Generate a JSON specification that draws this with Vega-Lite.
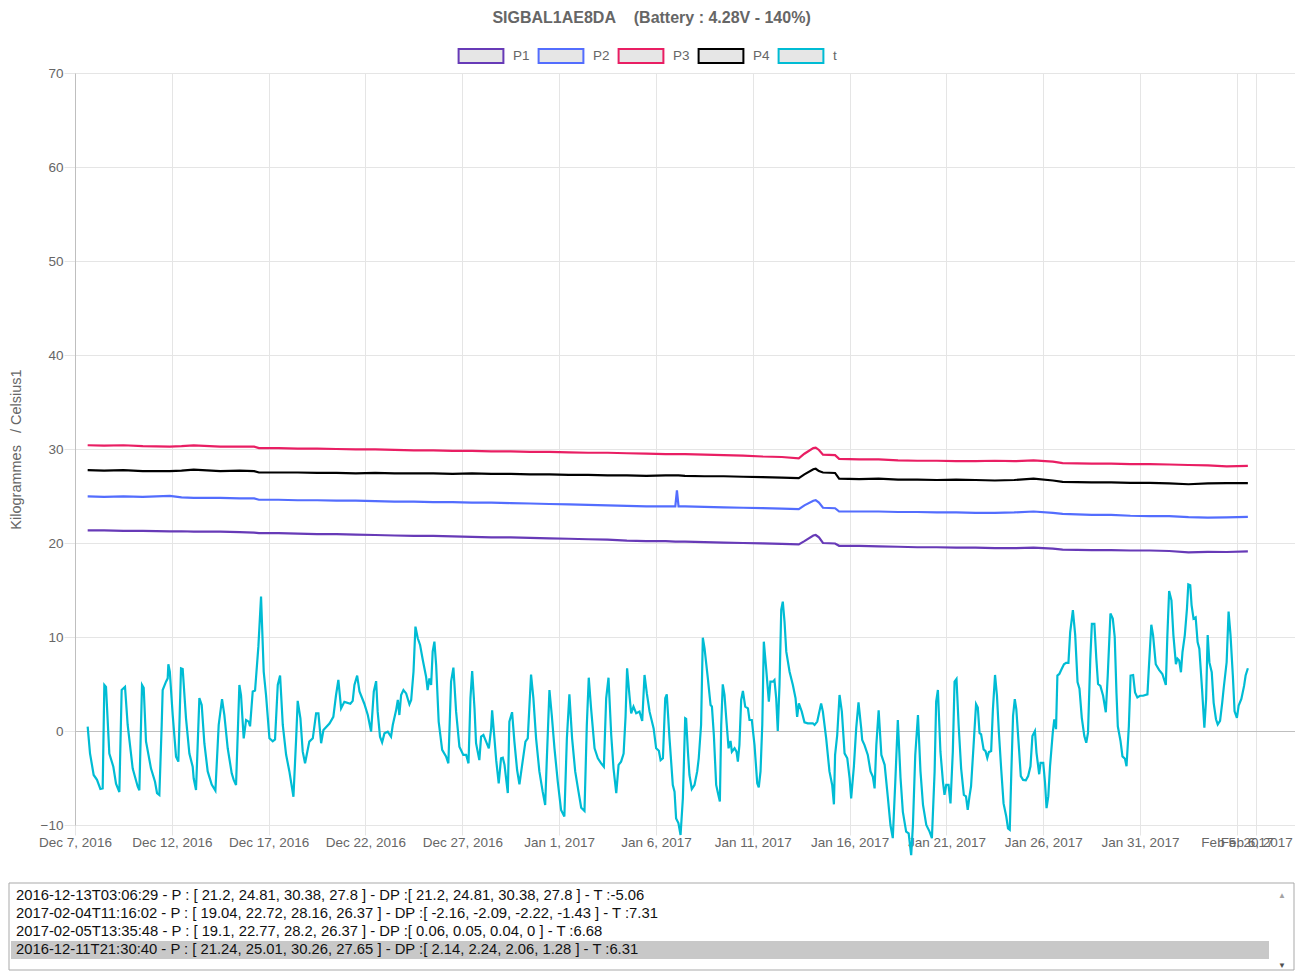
{
 "$schema": "https://vega.github.io/schema/vega-lite/v6.json",
 "padding": {"left": 8, "top": 10, "right": 0, "bottom": 0},
 "background": "white",
 "title": {"text": "SIGBAL1AE8DA\u00a0\u00a0\u00a0\u00a0(Battery : 4.28V - 140%)", "fontSize": 16, "fontWeight": "bold", "color": "#666666", "font": "Liberation Sans", "anchor": "middle", "frame": "bounds", "offset": 15},
 "config": {
  "font": "Liberation Sans",
  "view": {"stroke": null},
  "axis": {"labelFont": "Liberation Sans", "labelFontSize": 13.5, "labelColor": "#666666", "titleFont": "Liberation Sans", "titleFontSize": 13.5, "titleColor": "#666666", "titleFontWeight": "normal", "gridColor": "#e5e5e5", "tickColor": "#e5e5e5", "tickSize": 11, "labelPadding": 3}
 },
 "datasets": {
  "p": [
   {"d":"2016-12-07T15:42","P1":21.35,"P2":24.95,"P3":30.4,"P4":27.75},
   {"d":"2016-12-08T12:00","P1":21.35,"P2":24.9,"P3":30.35,"P4":27.7},
   {"d":"2016-12-09T12:00","P1":21.3,"P2":24.95,"P3":30.4,"P4":27.75},
   {"d":"2016-12-10T12:00","P1":21.3,"P2":24.9,"P3":30.3,"P4":27.65},
   {"d":"2016-12-11T21:30","P1":21.24,"P2":25.01,"P3":30.26,"P4":27.65},
   {"d":"2016-12-12T12:00","P1":21.25,"P2":24.85,"P3":30.3,"P4":27.7},
   {"d":"2016-12-13T03:06","P1":21.2,"P2":24.81,"P3":30.38,"P4":27.8},
   {"d":"2016-12-14T12:00","P1":21.2,"P2":24.8,"P3":30.25,"P4":27.65},
   {"d":"2016-12-15T12:00","P1":21.15,"P2":24.75,"P3":30.25,"P4":27.7},
   {"d":"2016-12-16T06:00","P1":21.1,"P2":24.75,"P3":30.25,"P4":27.65},
   {"d":"2016-12-16T12:00","P1":21.05,"P2":24.6,"P3":30.1,"P4":27.5},
   {"d":"2016-12-17T12:00","P1":21.05,"P2":24.6,"P3":30.1,"P4":27.5},
   {"d":"2016-12-18T12:00","P1":21.0,"P2":24.55,"P3":30.05,"P4":27.5},
   {"d":"2016-12-19T12:00","P1":20.95,"P2":24.55,"P3":30.05,"P4":27.45},
   {"d":"2016-12-20T12:00","P1":20.95,"P2":24.5,"P3":30.0,"P4":27.45},
   {"d":"2016-12-21T12:00","P1":20.9,"P2":24.5,"P3":29.95,"P4":27.4},
   {"d":"2016-12-22T12:00","P1":20.85,"P2":24.45,"P3":29.95,"P4":27.45},
   {"d":"2016-12-23T12:00","P1":20.8,"P2":24.4,"P3":29.9,"P4":27.4},
   {"d":"2016-12-24T12:00","P1":20.75,"P2":24.4,"P3":29.85,"P4":27.4},
   {"d":"2016-12-25T12:00","P1":20.75,"P2":24.35,"P3":29.85,"P4":27.4},
   {"d":"2016-12-26T12:00","P1":20.7,"P2":24.35,"P3":29.8,"P4":27.35},
   {"d":"2016-12-27T12:00","P1":20.65,"P2":24.3,"P3":29.8,"P4":27.4},
   {"d":"2016-12-28T12:00","P1":20.6,"P2":24.3,"P3":29.75,"P4":27.35},
   {"d":"2016-12-29T12:00","P1":20.6,"P2":24.25,"P3":29.75,"P4":27.35},
   {"d":"2016-12-30T12:00","P1":20.55,"P2":24.2,"P3":29.7,"P4":27.3},
   {"d":"2016-12-31T12:00","P1":20.5,"P2":24.15,"P3":29.7,"P4":27.3},
   {"d":"2017-01-01T12:00","P1":20.45,"P2":24.1,"P3":29.65,"P4":27.25},
   {"d":"2017-01-02T12:00","P1":20.4,"P2":24.05,"P3":29.6,"P4":27.25},
   {"d":"2017-01-03T12:00","P1":20.35,"P2":24.0,"P3":29.6,"P4":27.2},
   {"d":"2017-01-04T12:00","P1":20.25,"P2":23.95,"P3":29.55,"P4":27.2},
   {"d":"2017-01-05T12:00","P1":20.2,"P2":23.9,"P3":29.5,"P4":27.15},
   {"d":"2017-01-06T12:00","P1":20.2,"P2":23.9,"P3":29.45,"P4":27.2},
   {"d":"2017-01-07T00:00","P1":20.15,"P2":23.9,"P3":29.45,"P4":27.2},
   {"d":"2017-01-07T02:00","P2":25.6},
   {"d":"2017-01-07T04:00","P1":20.15,"P2":23.9,"P3":29.45,"P4":27.2},
   {"d":"2017-01-07T12:00","P1":20.15,"P2":23.9,"P3":29.45,"P4":27.15},
   {"d":"2017-01-08T12:00","P1":20.1,"P2":23.85,"P3":29.4,"P4":27.1},
   {"d":"2017-01-09T12:00","P1":20.05,"P2":23.8,"P3":29.35,"P4":27.1},
   {"d":"2017-01-10T12:00","P1":20.0,"P2":23.75,"P3":29.3,"P4":27.05},
   {"d":"2017-01-11T12:00","P1":19.95,"P2":23.7,"P3":29.2,"P4":27.0},
   {"d":"2017-01-12T12:00","P1":19.9,"P2":23.65,"P3":29.15,"P4":26.95},
   {"d":"2017-01-13T09:00","P1":19.85,"P2":23.6,"P3":29.0,"P4":26.9},
   {"d":"2017-01-13T16:00","P1":20.2,"P2":24.0,"P3":29.5,"P4":27.3},
   {"d":"2017-01-14T03:00","P1":20.8,"P2":24.5,"P3":30.1,"P4":27.85},
   {"d":"2017-01-14T06:00","P1":20.85,"P2":24.55,"P3":30.15,"P4":27.9},
   {"d":"2017-01-14T10:00","P1":20.6,"P2":24.3,"P3":29.9,"P4":27.65},
   {"d":"2017-01-14T15:00","P1":20.0,"P2":23.75,"P3":29.4,"P4":27.5},
   {"d":"2017-01-15T06:00","P1":19.95,"P2":23.7,"P3":29.35,"P4":27.45},
   {"d":"2017-01-15T11:00","P1":19.7,"P2":23.35,"P3":28.95,"P4":26.85},
   {"d":"2017-01-16T12:00","P1":19.7,"P2":23.35,"P3":28.9,"P4":26.8},
   {"d":"2017-01-17T12:00","P1":19.65,"P2":23.35,"P3":28.9,"P4":26.85},
   {"d":"2017-01-18T12:00","P1":19.6,"P2":23.3,"P3":28.8,"P4":26.75},
   {"d":"2017-01-19T12:00","P1":19.55,"P2":23.3,"P3":28.75,"P4":26.75},
   {"d":"2017-01-20T12:00","P1":19.55,"P2":23.25,"P3":28.75,"P4":26.7},
   {"d":"2017-01-21T12:00","P1":19.5,"P2":23.25,"P3":28.7,"P4":26.75},
   {"d":"2017-01-22T12:00","P1":19.5,"P2":23.2,"P3":28.7,"P4":26.7},
   {"d":"2017-01-23T12:00","P1":19.45,"P2":23.2,"P3":28.75,"P4":26.65},
   {"d":"2017-01-24T12:00","P1":19.45,"P2":23.25,"P3":28.7,"P4":26.7},
   {"d":"2017-01-25T12:00","P1":19.5,"P2":23.35,"P3":28.8,"P4":26.85},
   {"d":"2017-01-26T12:00","P1":19.4,"P2":23.2,"P3":28.65,"P4":26.65},
   {"d":"2017-01-27T00:00","P1":19.3,"P2":23.1,"P3":28.5,"P4":26.5},
   {"d":"2017-01-28T12:00","P1":19.25,"P2":23.0,"P3":28.45,"P4":26.45},
   {"d":"2017-01-29T12:00","P1":19.25,"P2":23.0,"P3":28.45,"P4":26.45},
   {"d":"2017-01-30T12:00","P1":19.2,"P2":22.9,"P3":28.4,"P4":26.4},
   {"d":"2017-01-31T12:00","P1":19.2,"P2":22.85,"P3":28.4,"P4":26.4},
   {"d":"2017-02-01T12:00","P1":19.15,"P2":22.85,"P3":28.35,"P4":26.35},
   {"d":"2017-02-02T12:00","P1":19.0,"P2":22.75,"P3":28.3,"P4":26.25},
   {"d":"2017-02-03T12:00","P1":19.05,"P2":22.7,"P3":28.25,"P4":26.35},
   {"d":"2017-02-04T11:16","P1":19.04,"P2":22.72,"P3":28.16,"P4":26.37},
   {"d":"2017-02-05T13:35","P1":19.1,"P2":22.77,"P3":28.2,"P4":26.37}
  ],
  "t": [
   {"d":"2016-12-07T15:42","t":0.46},{"d":"2016-12-07T18:36","t":-2.38},{"d":"2016-12-07T23:08","t":-4.68},
   {"d":"2016-12-08T03:16","t":-5.2},{"d":"2016-12-08T07:25","t":-6.17},{"d":"2016-12-08T10:18","t":-6.1},
   {"d":"2016-12-08T12:22","t":4.9},{"d":"2016-12-08T14:25","t":4.7},{"d":"2016-12-08T18:33","t":-2.4},
   {"d":"2016-12-08T23:31","t":-3.8},{"d":"2016-12-09T02:50","t":-5.6},{"d":"2016-12-09T06:58","t":-6.5},
   {"d":"2016-12-09T09:50","t":4.36},{"d":"2016-12-09T14:00","t":4.7},{"d":"2016-12-09T17:17","t":0.64},
   {"d":"2016-12-09T23:31","t":-4.0},{"d":"2016-12-10T05:41","t":-5.9},{"d":"2016-12-10T07:45","t":-6.3},
   {"d":"2016-12-10T11:04","t":4.9},{"d":"2016-12-10T13:08","t":4.6},{"d":"2016-12-10T16:00","t":-1.1},
   {"d":"2016-12-10T22:13","t":-4.0},{"d":"2016-12-11T03:10","t":-5.4},{"d":"2016-12-11T05:40","t":-6.6},
   {"d":"2016-12-11T08:33","t":-6.8},{"d":"2016-12-11T11:27","t":0.64},{"d":"2016-12-11T12:40","t":4.36},
   {"d":"2016-12-11T16:48","t":5.25},{"d":"2016-12-11T18:53","t":5.6},{"d":"2016-12-11T19:42","t":7.1},
   {"d":"2016-12-11T21:30","t":6.31},{"d":"2016-12-12T01:05","t":1.7},{"d":"2016-12-12T05:13","t":-2.73},
   {"d":"2016-12-12T08:05","t":-3.26},{"d":"2016-12-12T11:24","t":6.67},{"d":"2016-12-12T13:28","t":6.6},
   {"d":"2016-12-12T17:35","t":1.35},{"d":"2016-12-12T21:45","t":-2.4},{"d":"2016-12-13T01:52","t":-3.8},
   {"d":"2016-12-13T03:06","t":-5.06},{"d":"2016-12-13T06:00","t":-6.28},{"d":"2016-12-13T10:08","t":3.5},
   {"d":"2016-12-13T13:02","t":2.77},{"d":"2016-12-13T16:19","t":-1.3},{"d":"2016-12-13T20:28","t":-4.3},
   {"d":"2016-12-14T01:26","t":-5.7},{"d":"2016-12-14T06:00","t":-6.35},{"d":"2016-12-14T10:05","t":0.64},
   {"d":"2016-12-14T14:14","t":3.4},{"d":"2016-12-14T17:07","t":1.7},{"d":"2016-12-14T21:16","t":-1.84},
   {"d":"2016-12-15T02:13","t":-4.5},{"d":"2016-12-15T04:42","t":-5.2},{"d":"2016-12-15T07:35","t":-5.74},
   {"d":"2016-12-15T11:43","t":4.9},{"d":"2016-12-15T13:46","t":3.8},{"d":"2016-12-15T17:05","t":-0.78},
   {"d":"2016-12-15T20:00","t":1.17},{"d":"2016-12-15T23:17","t":1.0},{"d":"2016-12-16T00:58","t":0.5},
   {"d":"2016-12-16T04:15","t":4.2},{"d":"2016-12-16T07:09","t":4.3},{"d":"2016-12-16T11:17","t":9.0},
   {"d":"2016-12-16T14:34","t":14.3},{"d":"2016-12-16T17:53","t":6.3},{"d":"2016-12-16T20:47","t":3.8},
   {"d":"2016-12-17T00:58","t":-0.78},{"d":"2016-12-17T05:02","t":-1.1},{"d":"2016-12-17T07:55","t":-0.9},
   {"d":"2016-12-17T11:17","t":4.9},{"d":"2016-12-17T14:10","t":5.9},{"d":"2016-12-17T17:31","t":0.64},
   {"d":"2016-12-17T21:36","t":-2.5},{"d":"2016-12-18T01:41","t":-4.3},{"d":"2016-12-18T06:43","t":-7.0},
   {"d":"2016-12-18T10:05","t":-0.78},{"d":"2016-12-18T12:00","t":3.2},{"d":"2016-12-18T15:22","t":1.35},
   {"d":"2016-12-18T18:14","t":-2.2},{"d":"2016-12-18T21:07","t":-3.44},{"d":"2016-12-19T02:24","t":-1.13},
   {"d":"2016-12-19T06:43","t":-0.78},{"d":"2016-12-19T10:48","t":1.88},{"d":"2016-12-19T13:41","t":1.88},
   {"d":"2016-12-19T17:02","t":-1.3},{"d":"2016-12-19T19:55","t":0.1},{"d":"2016-12-20T03:22","t":0.8},
   {"d":"2016-12-20T08:10","t":1.5},{"d":"2016-12-20T11:31","t":3.83},{"d":"2016-12-20T14:24","t":5.43},
   {"d":"2016-12-20T17:46","t":2.4},{"d":"2016-12-20T21:50","t":3.1},{"d":"2016-12-21T05:17","t":2.9},
   {"d":"2016-12-21T08:10","t":3.2},{"d":"2016-12-21T10:19","t":4.9},{"d":"2016-12-21T13:41","t":5.9},
   {"d":"2016-12-21T16:34","t":4.2},{"d":"2016-12-21T22:34","t":2.9},{"d":"2016-12-22T02:53","t":1.7},
   {"d":"2016-12-22T06:58","t":-0.07},{"d":"2016-12-22T10:19","t":4.2},{"d":"2016-12-22T13:12","t":5.3},
   {"d":"2016-12-22T15:07","t":2.06},{"d":"2016-12-22T18:00","t":-0.6},{"d":"2016-12-22T20:38","t":-1.2},
   {"d":"2016-12-22T23:31","t":-0.25},{"d":"2016-12-23T03:36","t":-0.07},{"d":"2016-12-23T07:41","t":-0.6},
   {"d":"2016-12-23T09:50","t":0.64},{"d":"2016-12-23T13:55","t":2.2},{"d":"2016-12-23T16:05","t":3.3},
   {"d":"2016-12-23T18:00","t":1.7},{"d":"2016-12-23T20:10","t":3.83},{"d":"2016-12-23T23:02","t":4.36},
   {"d":"2016-12-24T02:24","t":4.0},{"d":"2016-12-24T06:29","t":2.84},{"d":"2016-12-24T08:38","t":3.3},
   {"d":"2016-12-24T11:31","t":6.3},{"d":"2016-12-24T13:55","t":11.1},{"d":"2016-12-24T16:48","t":9.86},
   {"d":"2016-12-24T19:41","t":9.15},{"d":"2016-12-24T23:02","t":7.55},{"d":"2016-12-25T03:07","t":5.78},
   {"d":"2016-12-25T05:02","t":4.36},{"d":"2016-12-25T07:12","t":5.6},{"d":"2016-12-25T09:22","t":4.9},
   {"d":"2016-12-25T11:17","t":8.44},{"d":"2016-12-25T13:26","t":9.5},{"d":"2016-12-25T15:36","t":7.0},
   {"d":"2016-12-25T18:43","t":1.0},{"d":"2016-12-25T23:02","t":-2.0},{"d":"2016-12-26T03:50","t":-2.7},
   {"d":"2016-12-26T06:43","t":-3.44},{"d":"2016-12-26T10:05","t":5.25},{"d":"2016-12-26T12:58","t":6.74},
   {"d":"2016-12-26T16:19","t":2.06},{"d":"2016-12-26T20:24","t":-1.67},{"d":"2016-12-27T01:12","t":-2.55},
   {"d":"2016-12-27T04:48","t":-2.55},{"d":"2016-12-27T07:41","t":-3.44},{"d":"2016-12-27T10:05","t":3.48},
   {"d":"2016-12-27T12:14","t":6.38},{"d":"2016-12-27T15:07","t":2.4},{"d":"2016-12-27T17:02","t":-1.3},
   {"d":"2016-12-27T21:07","t":-3.1},{"d":"2016-12-27T23:17","t":-0.6},{"d":"2016-12-28T02:10","t":-0.43},
   {"d":"2016-12-28T05:31","t":-1.13},{"d":"2016-12-28T08:53","t":-1.84},{"d":"2016-12-28T11:46","t":0.28},
   {"d":"2016-12-28T12:58","t":2.2},{"d":"2016-12-28T15:50","t":-0.8},{"d":"2016-12-28T18:00","t":-3.1},
   {"d":"2016-12-28T21:07","t":-5.57},{"d":"2016-12-29T00:00","t":-2.9},{"d":"2016-12-29T02:10","t":-2.84},
   {"d":"2016-12-29T04:19","t":-3.6},{"d":"2016-12-29T08:24","t":-6.6},{"d":"2016-12-29T10:19","t":1.0},
   {"d":"2016-12-29T13:41","t":2.0},{"d":"2016-12-29T16:34","t":-1.13},{"d":"2016-12-29T19:55","t":-4.15},
   {"d":"2016-12-29T22:48","t":-5.67},{"d":"2016-12-30T02:10","t":-3.6},{"d":"2016-12-30T06:14","t":-1.13},
   {"d":"2016-12-30T09:07","t":-0.78},{"d":"2016-12-30T13:12","t":6.0},{"d":"2016-12-30T16:05","t":3.5},
   {"d":"2016-12-30T19:26","t":-0.78},{"d":"2016-12-30T23:31","t":-4.3},{"d":"2016-12-31T03:36","t":-6.45},
   {"d":"2016-12-31T06:43","t":-7.87},{"d":"2016-12-31T08:38","t":-3.26},{"d":"2016-12-31T12:00","t":4.36},
   {"d":"2016-12-31T14:53","t":1.7},{"d":"2016-12-31T18:14","t":-1.84},{"d":"2016-12-31T22:19","t":-5.4},
   {"d":"2017-01-01T02:24","t":-8.4},{"d":"2017-01-01T06:29","t":-9.1},{"d":"2017-01-01T09:36","t":-0.78},
   {"d":"2017-01-01T12:43","t":3.9},{"d":"2017-01-01T16:05","t":-0.78},{"d":"2017-01-01T19:55","t":-4.3},
   {"d":"2017-01-02T00:00","t":-6.45},{"d":"2017-01-02T03:22","t":-8.16},{"d":"2017-01-02T07:26","t":-8.5},
   {"d":"2017-01-02T10:19","t":0.64},{"d":"2017-01-02T12:43","t":5.67},{"d":"2017-01-02T15:36","t":2.4},
   {"d":"2017-01-02T19:55","t":-1.84},{"d":"2017-01-03T00:00","t":-2.9},{"d":"2017-01-03T04:05","t":-3.44},
   {"d":"2017-01-03T07:26","t":-3.8},{"d":"2017-01-03T10:19","t":3.48},{"d":"2017-01-03T13:12","t":5.67},
   {"d":"2017-01-03T16:34","t":-0.43},{"d":"2017-01-03T19:26","t":-4.0},{"d":"2017-01-03T22:48","t":-6.6},
   {"d":"2017-01-04T01:41","t":-3.6},{"d":"2017-01-04T04:48","t":-3.26},{"d":"2017-01-04T07:55","t":-2.4},
   {"d":"2017-01-04T10:19","t":1.5},{"d":"2017-01-04T12:14","t":6.67},{"d":"2017-01-04T15:07","t":3.83},
   {"d":"2017-01-04T17:17","t":1.88},{"d":"2017-01-04T20:10","t":2.6},{"d":"2017-01-04T23:31","t":1.88},
   {"d":"2017-01-05T03:36","t":2.06},{"d":"2017-01-05T06:58","t":1.06},{"d":"2017-01-05T09:50","t":5.96},
   {"d":"2017-01-05T12:43","t":4.0},{"d":"2017-01-05T16:05","t":2.06},{"d":"2017-01-05T21:07","t":0.28},
   {"d":"2017-01-06T00:14","t":-1.84},{"d":"2017-01-06T03:36","t":-2.1},{"d":"2017-01-06T05:46","t":-3.1},
   {"d":"2017-01-06T08:38","t":-2.9},{"d":"2017-01-06T11:31","t":3.48},{"d":"2017-01-06T13:26","t":3.9},
   {"d":"2017-01-06T16:48","t":-0.78},{"d":"2017-01-06T20:53","t":-5.74},{"d":"2017-01-06T23:02","t":-6.45},
   {"d":"2017-01-07T00:58","t":-9.3},{"d":"2017-01-07T03:50","t":-9.8},{"d":"2017-01-07T06:29","t":-11.06},
   {"d":"2017-01-07T09:22","t":-7.16},{"d":"2017-01-07T12:14","t":1.35},{"d":"2017-01-07T13:26","t":1.28},
   {"d":"2017-01-07T15:36","t":-2.2},{"d":"2017-01-07T17:31","t":-4.68},{"d":"2017-01-07T20:24","t":-6.17},
   {"d":"2017-01-07T23:46","t":-5.74},{"d":"2017-01-08T03:07","t":-4.3},{"d":"2017-01-08T05:02","t":-2.9},
   {"d":"2017-01-08T07:55","t":0.64},{"d":"2017-01-08T10:05","t":9.93},{"d":"2017-01-08T12:14","t":8.8},
   {"d":"2017-01-08T16:19","t":5.6},{"d":"2017-01-08T19:41","t":2.77},{"d":"2017-01-08T21:22","t":2.6},
   {"d":"2017-01-08T23:46","t":-0.43},{"d":"2017-01-09T02:38","t":-5.74},{"d":"2017-01-09T04:48","t":-6.6},
   {"d":"2017-01-09T07:12","t":-7.5},{"d":"2017-01-09T08:53","t":0.64},{"d":"2017-01-09T10:48","t":4.96},
   {"d":"2017-01-09T12:58","t":3.83},{"d":"2017-01-09T15:07","t":1.35},{"d":"2017-01-09T18:00","t":-1.84},
   {"d":"2017-01-09T20:24","t":-1.06},{"d":"2017-01-09T22:05","t":-2.2},{"d":"2017-01-10T01:26","t":-1.84},
   {"d":"2017-01-10T03:50","t":-2.2},{"d":"2017-01-10T05:31","t":-3.26},{"d":"2017-01-10T07:26","t":-1.5},
   {"d":"2017-01-10T09:36","t":3.3},{"d":"2017-01-10T11:46","t":4.26},{"d":"2017-01-10T14:38","t":2.6},
   {"d":"2017-01-10T18:00","t":2.41},{"d":"2017-01-10T19:55","t":1.17},{"d":"2017-01-10T22:48","t":1.17},
   {"d":"2017-01-11T02:10","t":-1.5},{"d":"2017-01-11T05:31","t":-5.57},{"d":"2017-01-11T07:26","t":-6.0},
   {"d":"2017-01-11T09:36","t":-4.3},{"d":"2017-01-11T11:46","t":0.64},{"d":"2017-01-11T13:41","t":9.5},
   {"d":"2017-01-11T16:34","t":6.67},{"d":"2017-01-11T19:55","t":3.12},{"d":"2017-01-11T21:50","t":5.25},
   {"d":"2017-01-12T00:58","t":5.25},{"d":"2017-01-12T02:53","t":5.43},{"d":"2017-01-12T05:02","t":3.48},
   {"d":"2017-01-12T06:58","t":0.0},{"d":"2017-01-12T09:07","t":4.9},{"d":"2017-01-12T11:17","t":12.9},
   {"d":"2017-01-12T13:12","t":13.76},{"d":"2017-01-12T15:22","t":11.6},{"d":"2017-01-12T17:31","t":8.44},
   {"d":"2017-01-12T21:36","t":6.3},{"d":"2017-01-13T01:41","t":4.9},{"d":"2017-01-13T05:02","t":3.48},
   {"d":"2017-01-13T06:58","t":1.5},{"d":"2017-01-13T09:07","t":2.94},{"d":"2017-01-13T12:43","t":2.06},
   {"d":"2017-01-13T16:05","t":0.92},{"d":"2017-01-13T20:10","t":0.82},{"d":"2017-01-14T02:24","t":0.82},
   {"d":"2017-01-14T04:34","t":0.64},{"d":"2017-01-14T07:55","t":1.0},{"d":"2017-01-14T12:43","t":2.94},
   {"d":"2017-01-14T14:53","t":2.06},{"d":"2017-01-14T18:58","t":-0.78},{"d":"2017-01-14T23:02","t":-4.3},
   {"d":"2017-01-15T02:24","t":-5.74},{"d":"2017-01-15T04:34","t":-7.8},{"d":"2017-01-15T06:00","t":-2.55},
   {"d":"2017-01-15T08:38","t":-0.43},{"d":"2017-01-15T11:31","t":3.83},{"d":"2017-01-15T14:24","t":2.06},
   {"d":"2017-01-15T17:46","t":-2.38},{"d":"2017-01-15T21:07","t":-2.9},{"d":"2017-01-16T00:00","t":-5.0},
   {"d":"2017-01-16T01:55","t":-7.16},{"d":"2017-01-16T05:17","t":-3.8},{"d":"2017-01-16T08:10","t":0.28},
   {"d":"2017-01-16T11:02","t":3.05},{"d":"2017-01-16T14:24","t":0.28},{"d":"2017-01-16T15:36","t":-0.96},
   {"d":"2017-01-16T18:29","t":-1.5},{"d":"2017-01-16T22:34","t":-2.55},{"d":"2017-01-17T01:55","t":-4.3},
   {"d":"2017-01-17T04:48","t":-4.86},{"d":"2017-01-17T06:58","t":-6.1},{"d":"2017-01-17T09:07","t":-1.5},
   {"d":"2017-01-17T12:00","t":2.2},{"d":"2017-01-17T15:22","t":-2.55},{"d":"2017-01-17T19:26","t":-3.6},
   {"d":"2017-01-17T23:31","t":-7.16},{"d":"2017-01-18T02:38","t":-10.0},{"d":"2017-01-18T05:31","t":-11.4},
   {"d":"2017-01-18T08:38","t":-5.4},{"d":"2017-01-18T11:46","t":1.17},{"d":"2017-01-18T15:07","t":-5.0},
   {"d":"2017-01-18T18:00","t":-8.6},{"d":"2017-01-18T22:05","t":-10.7},{"d":"2017-01-19T01:12","t":-10.9},
   {"d":"2017-01-19T04:19","t":-13.2},{"d":"2017-01-19T06:29","t":-10.0},{"d":"2017-01-19T09:22","t":-2.55},
   {"d":"2017-01-19T12:43","t":1.7},{"d":"2017-01-19T15:50","t":-4.3},{"d":"2017-01-19T18:58","t":-7.87},
   {"d":"2017-01-19T23:02","t":-10.0},{"d":"2017-01-20T03:07","t":-10.7},{"d":"2017-01-20T06:00","t":-11.4},
   {"d":"2017-01-20T09:22","t":-4.3},{"d":"2017-01-20T11:17","t":3.12},{"d":"2017-01-20T13:26","t":4.36},
   {"d":"2017-01-20T16:34","t":-2.2},{"d":"2017-01-20T19:41","t":-5.4},{"d":"2017-01-20T21:36","t":-6.8},
   {"d":"2017-01-20T23:46","t":-5.74},{"d":"2017-01-21T02:38","t":-5.74},{"d":"2017-01-21T05:02","t":-7.7},
   {"d":"2017-01-21T07:55","t":-2.2},{"d":"2017-01-21T10:05","t":5.25},{"d":"2017-01-21T12:29","t":5.53},
   {"d":"2017-01-21T15:07","t":0.64},{"d":"2017-01-21T18:14","t":-4.0},{"d":"2017-01-21T21:36","t":-6.8},
   {"d":"2017-01-22T00:14","t":-6.96},{"d":"2017-01-22T02:24","t":-8.4},{"d":"2017-01-22T04:34","t":-6.96},
   {"d":"2017-01-22T06:29","t":-5.9},{"d":"2017-01-22T09:36","t":-1.6},{"d":"2017-01-22T12:43","t":2.86},
   {"d":"2017-01-22T14:53","t":2.5},{"d":"2017-01-22T17:02","t":-0.2},{"d":"2017-01-22T18:58","t":-0.36},
   {"d":"2017-01-22T22:05","t":-1.96},{"d":"2017-01-23T00:29","t":-2.14},{"d":"2017-01-23T02:38","t":-2.86},
   {"d":"2017-01-23T04:34","t":-2.25},{"d":"2017-01-23T07:26","t":-2.14},{"d":"2017-01-23T09:36","t":2.3},
   {"d":"2017-01-23T12:14","t":5.96},{"d":"2017-01-23T14:38","t":3.75},{"d":"2017-01-23T17:02","t":-0.18},
   {"d":"2017-01-23T19:55","t":-4.1},{"d":"2017-01-23T22:48","t":-7.7},{"d":"2017-01-24T02:10","t":-9.1},
   {"d":"2017-01-24T04:19","t":-10.35},{"d":"2017-01-24T06:29","t":-10.5},{"d":"2017-01-24T08:24","t":-4.5},
   {"d":"2017-01-24T10:34","t":1.6},{"d":"2017-01-24T12:43","t":3.4},{"d":"2017-01-24T14:38","t":2.3},
   {"d":"2017-01-24T18:00","t":-1.96},{"d":"2017-01-24T20:10","t":-4.8},{"d":"2017-01-24T23:02","t":-5.2},
   {"d":"2017-01-25T02:24","t":-5.25},{"d":"2017-01-25T05:17","t":-4.8},{"d":"2017-01-25T08:10","t":-3.75},
   {"d":"2017-01-25T10:34","t":-0.54},{"d":"2017-01-25T13:41","t":0.0},{"d":"2017-01-25T15:36","t":-2.3},
   {"d":"2017-01-25T18:58","t":-4.6},{"d":"2017-01-25T20:38","t":-3.4},{"d":"2017-01-26T00:00","t":-3.4},
   {"d":"2017-01-26T02:10","t":-5.5},{"d":"2017-01-26T04:05","t":-8.2},{"d":"2017-01-26T06:14","t":-6.96},
   {"d":"2017-01-26T08:24","t":-3.75},{"d":"2017-01-26T11:46","t":-0.2},{"d":"2017-01-26T13:41","t":1.25},
   {"d":"2017-01-26T15:50","t":0.2},{"d":"2017-01-26T17:31","t":5.9},{"d":"2017-01-26T19:55","t":6.07},
   {"d":"2017-01-26T22:48","t":6.6},{"d":"2017-01-27T01:41","t":7.1},{"d":"2017-01-27T04:19","t":7.25},
   {"d":"2017-01-27T07:12","t":7.25},{"d":"2017-01-27T09:22","t":10.5},{"d":"2017-01-27T12:43","t":12.85},
   {"d":"2017-01-27T15:36","t":10.2},{"d":"2017-01-27T18:29","t":5.2},{"d":"2017-01-27T20:53","t":4.5},
   {"d":"2017-01-27T23:46","t":1.4},{"d":"2017-01-28T02:53","t":-0.54},{"d":"2017-01-28T05:17","t":-1.25},
   {"d":"2017-01-28T07:26","t":-0.2},{"d":"2017-01-28T10:19","t":7.7},{"d":"2017-01-28T12:14","t":11.4},
   {"d":"2017-01-28T15:22","t":11.4},{"d":"2017-01-28T17:46","t":7.7},{"d":"2017-01-28T19:55","t":5.0},
   {"d":"2017-01-28T22:48","t":4.8},{"d":"2017-01-29T02:10","t":3.75},{"d":"2017-01-29T05:31","t":2.0},
   {"d":"2017-01-29T07:55","t":5.9},{"d":"2017-01-29T11:17","t":12.5},{"d":"2017-01-29T14:10","t":11.96},
   {"d":"2017-01-29T16:34","t":10.0},{"d":"2017-01-29T18:43","t":4.1},{"d":"2017-01-29T20:24","t":0.5},
   {"d":"2017-01-29T23:46","t":-1.07},{"d":"2017-01-30T02:10","t":-2.7},{"d":"2017-01-30T05:17","t":-2.96},
   {"d":"2017-01-30T07:12","t":-3.75},{"d":"2017-01-30T10:05","t":0.5},{"d":"2017-01-30T12:14","t":5.9},
   {"d":"2017-01-30T15:22","t":5.96},{"d":"2017-01-30T17:46","t":4.1},{"d":"2017-01-30T20:38","t":3.57},
   {"d":"2017-01-31T00:00","t":3.75},{"d":"2017-01-31T03:36","t":3.75},{"d":"2017-01-31T09:07","t":3.9},
   {"d":"2017-01-31T11:02","t":6.96},{"d":"2017-01-31T13:55","t":11.3},{"d":"2017-01-31T16:05","t":10.2},
   {"d":"2017-01-31T19:26","t":7.1},{"d":"2017-01-31T23:31","t":6.5},{"d":"2017-02-01T03:36","t":6.07},
   {"d":"2017-02-01T07:55","t":4.9},{"d":"2017-02-01T09:50","t":10.2},{"d":"2017-02-01T12:00","t":14.9},
   {"d":"2017-02-01T14:53","t":13.9},{"d":"2017-02-01T17:17","t":10.2},{"d":"2017-02-01T20:24","t":7.1},
   {"d":"2017-02-01T22:19","t":7.7},{"d":"2017-02-02T00:29","t":7.5},{"d":"2017-02-02T02:38","t":6.25},
   {"d":"2017-02-02T04:34","t":8.4},{"d":"2017-02-02T07:26","t":10.2},{"d":"2017-02-02T10:05","t":13.0},
   {"d":"2017-02-02T11:46","t":15.6},{"d":"2017-02-02T14:10","t":15.5},{"d":"2017-02-02T15:50","t":13.4},
   {"d":"2017-02-02T18:14","t":11.96},{"d":"2017-02-02T20:53","t":12.1},{"d":"2017-02-02T23:17","t":9.46},
   {"d":"2017-02-03T01:26","t":8.75},{"d":"2017-02-03T04:48","t":4.46},{"d":"2017-02-03T07:41","t":0.35},
   {"d":"2017-02-03T09:50","t":3.4},{"d":"2017-02-03T11:46","t":10.2},{"d":"2017-02-03T13:55","t":7.3},
   {"d":"2017-02-03T16:48","t":6.25},{"d":"2017-02-03T19:12","t":3.0},{"d":"2017-02-03T22:05","t":1.25},
   {"d":"2017-02-04T00:14","t":0.7},{"d":"2017-02-04T03:07","t":1.07},{"d":"2017-02-04T05:46","t":3.0},
   {"d":"2017-02-04T07:41","t":4.6},{"d":"2017-02-04T11:16","t":7.31},{"d":"2017-02-04T13:41","t":12.7},
   {"d":"2017-02-04T16:05","t":10.2},{"d":"2017-02-04T18:58","t":5.9},{"d":"2017-02-04T21:07","t":2.1},
   {"d":"2017-02-05T00:00","t":1.4},{"d":"2017-02-05T02:10","t":2.7},{"d":"2017-02-05T05:31","t":3.4},
   {"d":"2017-02-05T08:53","t":4.8},{"d":"2017-02-05T10:48","t":5.9},{"d":"2017-02-05T13:35","t":6.68}
  ],
  "log": [
   {"row":1,"line":"2016-12-13T03:06:29 - P : [ 21.2, 24.81, 30.38, 27.8 ] - DP :[ 21.2, 24.81, 30.38, 27.8 ] - T :-5.06","selected":false},
   {"row":2,"line":"2017-02-04T11:16:02 - P : [ 19.04, 22.72, 28.16, 26.37 ] - DP :[ -2.16, -2.09, -2.22, -1.43 ] - T :7.31","selected":false},
   {"row":3,"line":"2017-02-05T13:35:48 - P : [ 19.1, 22.77, 28.2, 26.37 ] - DP :[ 0.06, 0.05, 0.04, 0 ] - T :6.68","selected":false},
   {"row":4,"line":"2016-12-11T21:30:40 - P : [ 21.24, 25.01, 30.26, 27.65 ] - DP :[ 2.14, 2.24, 2.06, 1.28 ] - T :6.31","selected":true}
  ]
 },
 "columns": 1,
 "spacing": 22,
 "concat": [
  {
   "width": 1220,
   "height": 752,
   "encoding": {
    "x": {"field": "d", "type": "temporal", "title": null,
     "scale": {"domain": [{"year": 2016, "month": 12, "date": 7}, {"year": 2017, "month": 2, "date": 8}]},
     "axis": {"values": [
       {"year": 2016, "month": 12, "date": 7}, {"year": 2016, "month": 12, "date": 12}, {"year": 2016, "month": 12, "date": 17},
       {"year": 2016, "month": 12, "date": 22}, {"year": 2016, "month": 12, "date": 27}, {"year": 2017, "month": 1, "date": 1},
       {"year": 2017, "month": 1, "date": 6}, {"year": 2017, "month": 1, "date": 11}, {"year": 2017, "month": 1, "date": 16},
       {"year": 2017, "month": 1, "date": 21}, {"year": 2017, "month": 1, "date": 26}, {"year": 2017, "month": 1, "date": 31},
       {"year": 2017, "month": 2, "date": 5}, {"year": 2017, "month": 2, "date": 6}],
      "format": "%b %-d, %Y", "labelOverlap": false, "labelFlush": false, "labelBound": false, "domain": false, "grid": true, "tickSize": 10, "labelPadding": 0}},
    "y": {"field": "value", "type": "quantitative", "title": "Kilogrammes\u00a0\u00a0\u00a0/ Celsius1",
     "scale": {"domain": [-10, 70], "nice": false, "zero": false},
     "axis": {"values": [-10, 0, 10, 20, 30, 40, 50, 60, 70], "titleFontSize": 14.5, "titlePadding": 17, "labelPadding": 1, "domain": true, "domainColor": "#bfbfbf",
      "gridColor": {"condition": {"test": "datum.value === 0", "value": "#bfbfbf"}, "value": "#e5e5e5"}}},
    "color": {"field": "series", "type": "nominal",
     "scale": {"domain": ["P1", "P2", "P3", "P4", "t"], "range": ["#673ab7", "#536dfe", "#e91e63", "#000000", "#00bcd4"]},
     "legend": {"orient": "none", "legendX": 391, "legendY": -32, "direction": "horizontal", "title": null,
      "symbolType": "M-1.6,-0.5H1.6V0.5H-1.6Z", "symbolSize": 784, "symbolStrokeWidth": 2,
      "labelFontSize": 13.5, "labelColor": "#666666", "labelFont": "Liberation Sans", "labelOffset": 17, "columnPadding": 4,
      "encode": {"symbols": {"update": {"fill": {"value": "#e6e6e6"}, "fillOpacity": {"value": 1}}}}}}
   },
   "layer": [
    {"data": {"name": "p"}, "transform": [{"fold": ["P1", "P2", "P3", "P4"], "as": ["series", "value"]}, {"filter": "isValid(datum.value)"}],
     "mark": {"type": "line", "strokeWidth": 2.2}},
    {"data": {"name": "t"}, "transform": [{"fold": ["t"], "as": ["series", "value"]}],
     "mark": {"type": "line", "strokeWidth": 2.2}}
   ]
  },
  {
   "width": 1219,
   "height": 87,
   "data": {"name": "log"},
   "layer": [
    {"transform": [{"filter": "datum.row === 1"}],
     "mark": {"type": "rect", "x": -66, "x2": 1219, "y": 0, "y2": 87, "fill": "#ffffff", "stroke": "#a9a9a9", "strokeWidth": 1}},
    {"transform": [{"filter": "datum.selected"}],
     "mark": {"type": "rect", "color": "#c8c8c8", "x": -64, "x2": 1194},
     "encoding": {"y": {"field": "row", "type": "ordinal", "axis": null,
      "scale": {"domain": [1, 2, 3, 4], "paddingInner": 0, "paddingOuter": 0.4167, "align": 0.267}}}},
    {"mark": {"type": "text", "align": "left", "baseline": "middle", "x": -59, "fontSize": 14.8, "font": "Liberation Sans", "color": "#111111"},
     "encoding": {"text": {"field": "line"}, "y": {"field": "row", "type": "ordinal", "axis": null}}},
    {"transform": [{"filter": "datum.row === 1"}],
     "mark": {"type": "text", "text": "▲", "x": 1207, "y": 13, "fontSize": 8, "color": "#a3a3a3", "align": "center", "baseline": "middle"}},
    {"transform": [{"filter": "datum.row === 1"}],
     "mark": {"type": "text", "text": "▼", "x": 1207, "y": 83, "fontSize": 8, "color": "#505050", "align": "center", "baseline": "middle"}}
   ]
  }
 ]
}
